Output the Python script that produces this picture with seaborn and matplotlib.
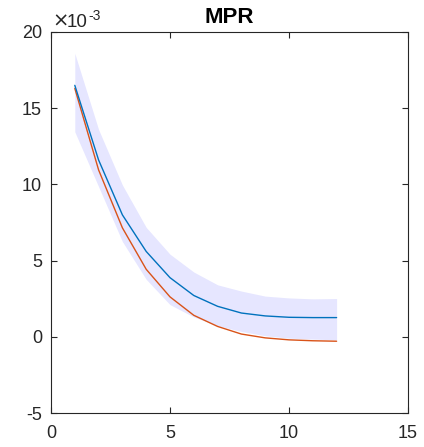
"""MPR impulse response with confidence band (MATLAB look)."""

import matplotlib

matplotlib.use("Agg")
import matplotlib.pyplot as plt
import numpy as np
import pandas as pd
import seaborn as sns

# horizon and responses, in units of 1e-3
horizon = np.arange(1, 13)
median_resp = [16.5, 11.6, 8.0, 5.6, 3.88, 2.71, 2.0, 1.56, 1.37, 1.28, 1.26, 1.26]
model_resp = [16.3, 10.95, 7.15, 4.43, 2.62, 1.41, 0.68, 0.18, -0.07, -0.2, -0.26, -0.29]
band_upper = [18.6, 13.6, 9.96, 7.18, 5.42, 4.25, 3.41, 3.0, 2.67, 2.55, 2.49, 2.51]
band_lower = [13.45, 9.85, 6.25, 3.77, 2.11, 1.3, 0.73, 0.35, 0.07, -0.09, -0.15, -0.2]

xticks = [0, 5, 10, 15]
yticks = [-5, 0, 5, 10, 15, 20]

BLUE = "#0072BD"
ORANGE = "#D95319"
BAND = "#E6E6FF"
INK = "#262626"

W, H = 424, 447

sns.set_style("ticks")
plt.rcParams.update(
    {
        "font.family": ["Liberation Sans", "DejaVu Sans"],
        "axes.unicode_minus": False,
        "axes.linewidth": 0.8,
        "axes.edgecolor": INK,
        "xtick.color": INK,
        "ytick.color": INK,
        "xtick.direction": "in",
        "ytick.direction": "in",
        "xtick.top": True,
        "ytick.right": True,
    }
)

df = pd.DataFrame(
    {
        "h": np.concatenate([horizon, horizon]),
        "val": model_resp + median_resp,
        "series": ["model"] * len(horizon) + ["median"] * len(horizon),
    }
)

fig = plt.figure(figsize=(W / 100, H / 100), dpi=100)
ax = fig.add_axes([51 / W, 1 - 413 / H, 357 / W, 381 / H])

ax.fill_between(horizon, band_lower, band_upper, color=BAND, lw=0)
sns.lineplot(
    data=df, x="h", y="val", hue="series",
    palette={"median": BLUE, "model": ORANGE},
    hue_order=["model", "median"], lw=1, legend=False, ax=ax,
)

ax.set_xlim(0, 15)
ax.set_ylim(-5, 20)
ax.set_xticks(xticks)
ax.set_yticks(yticks)
ax.tick_params(labelsize=13, length=4, width=0.8, labelcolor=INK)
ax.tick_params(axis="y", pad=6.5)
ax.tick_params(axis="x", pad=9)
ax.set_xlabel("")
ax.set_ylabel("")
for side in ["top", "right", "left", "bottom"]:
    ax.spines[side].set_visible(True)

# title and exponent placed in pixel positions like the MATLAB figure
fig.text(229.5 / W, 1 - 23.3 / H, "MPR", fontsize=16, fontweight="bold",
         ha="center", va="baseline", color="black")
fig.text(52.5 / W, 1 - 26.5 / H, "\u00d7", fontsize=14,
         ha="left", va="baseline", color=INK, family="DejaVu Sans")
fig.text(67 / W, 1 - 27.3 / H, "10", fontsize=13.5,
         ha="left", va="baseline", color=INK)
fig.text(88 / W, 1 - 20 / H, "-3", fontsize=10,
         ha="left", va="baseline", color=INK)

fig.savefig("out.png", dpi=100)
